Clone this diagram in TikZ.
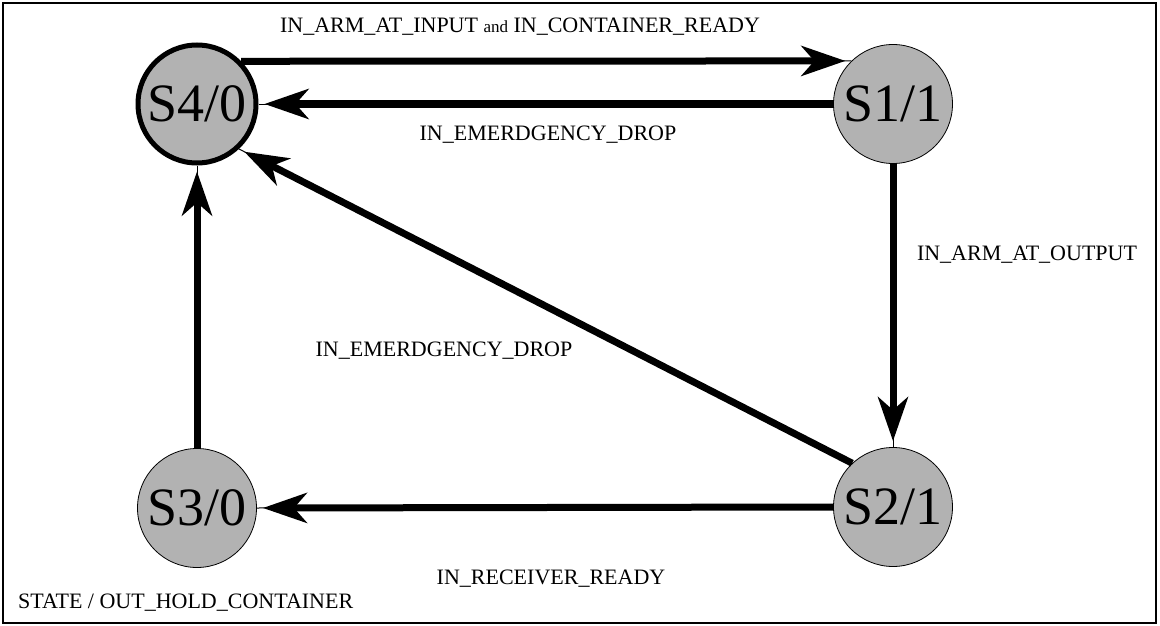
\documentclass[tikz,border=0pt]{standalone}
\usepackage{fontspec}
\setmainfont{Liberation Serif}
\usetikzlibrary{arrows.meta}
\begin{document}
\begin{tikzpicture}[x=1pt,y=-1pt,
  state/.style={circle,draw=black,line width=0.8pt,fill=black!30,
    minimum size=119pt,inner sep=0pt,font=\fontsize{54}{58}\selectfont},
  initial/.style={line width=5pt,minimum size=118pt},
  trans/.style={line width=7pt,shorten >=6pt,
    -{Stealth[length=44pt,width=30pt,inset=13pt]}},
  stub/.style={line width=1pt},
  lbl/.style={font=\fontsize{22}{26}\selectfont,inner sep=0pt}]
  \useasboundingbox (0,0) rectangle (1160,626);
  \draw[line width=1.5pt] (3,3) rectangle (1156,623);

  % states
  \node[state,initial] (S4) at (197,104) {S4/0};
  \node[state] (S1) at (893,104) {S1/1};
  \node[state] (S2) at (893,507) {S2/1};
  \node[state] (S3) at (197,508) {S3/0};

  % thin stubs between arrow tips and the target circles
  \draw[stub] (S4.44) -- (S1.134.5);
  \draw[stub] (S1.west) -- (S4.east);
  \draw[stub] (S1.south) -- (S2.north);
  \draw[stub] (S2.133) -- (S4.-47);
  \draw[stub] (S2.west) -- (S3.east);
  \draw[stub] (S3.north) -- (S4.south);

  % transitions
  \draw[trans] (S4.44) -- (S1.134.5);
  \draw[trans] (S1.west) -- (S4.east);
  \draw[trans] (S1.south) -- (S2.north);
  \draw[trans] (S2.133) -- (S4.-47);
  \draw[trans] (S2.west) -- (S3.east);
  \draw[trans] (S3.north) -- (S4.south);

  % transition labels
  \node[lbl] (l1) at (520,27) {IN\_ARM\_AT\_INPUT {\fontsize{17}{19}\selectfont and} IN\_CONTAINER\_READY};
  \node[lbl] (l2) at (548,135) {IN\_EMERDGENCY\_DROP};
  \node[lbl] (l3) at (1027,255) {IN\_ARM\_AT\_OUTPUT};
  \node[lbl] (l4) at (444,351) {IN\_EMERDGENCY\_DROP};
  \node[lbl] (l5) at (551,579) {IN\_RECEIVER\_READY};
  \node[lbl,anchor=west] (key) at (18,603) {STATE / OUT\_HOLD\_CONTAINER};
\end{tikzpicture}
\end{document}
